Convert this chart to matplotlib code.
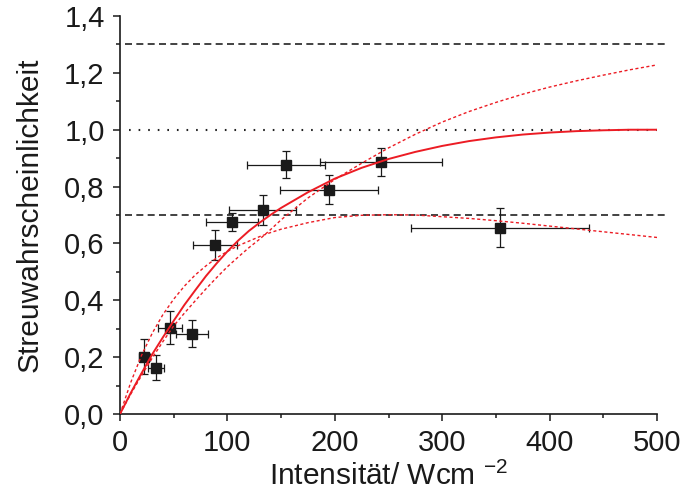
import numpy as np
import matplotlib
matplotlib.use("Agg")
import matplotlib.pyplot as plt
from matplotlib.ticker import MultipleLocator, FuncFormatter

plt.rcParams["font.family"] = ["Liberation Sans", "DejaVu Sans"]
plt.rcParams["mathtext.fontset"] = "custom"
plt.rcParams["mathtext.rm"] = "Liberation Sans"
plt.rcParams["mathtext.it"] = "Liberation Sans"

# measured points
intens = [22.6, 33.5, 46.6, 66.7, 88.5, 104.3, 132.8, 154.9, 194.3, 243.0, 353.6]
intens_err = [5.1, 7.7, 10.9, 15.0, 20.8, 24.5, 31.3, 36.2, 45.6, 57.0, 83.0]
prob = [0.202, 0.163, 0.304, 0.283, 0.593, 0.675, 0.718, 0.877, 0.788, 0.886, 0.656]
prob_err = [0.063, 0.045, 0.057, 0.047, 0.053, 0.032, 0.053, 0.048, 0.051, 0.050, 0.069]

# fit curves
fit_x = [0, 10, 20, 30, 40, 50, 60, 70, 80, 90, 100, 110, 120, 130, 140, 150,
         175, 200, 225, 250, 275, 300, 325, 350, 375, 400, 425, 450, 475, 500]
fit_mid = [0, 0.074, 0.143, 0.210, 0.270, 0.328, 0.384, 0.435, 0.485, 0.530,
           0.572, 0.610, 0.644, 0.673, 0.700, 0.725, 0.780, 0.828, 0.866, 0.897,
           0.922, 0.943, 0.960, 0.973, 0.983, 0.990, 0.995, 0.998, 1.000, 1.000]
fit_low = [0, 0.111, 0.206, 0.284, 0.350, 0.404, 0.450, 0.489, 0.521, 0.549,
           0.572, 0.592, 0.608, 0.624, 0.638, 0.650, 0.673, 0.691, 0.699, 0.701,
           0.700, 0.694, 0.688, 0.680, 0.671, 0.661, 0.651, 0.641, 0.631, 0.621]
fit_high = [0, 0.070, 0.135, 0.197, 0.255, 0.310, 0.355, 0.398, 0.440, 0.480,
            0.518, 0.552, 0.585, 0.615, 0.648, 0.683, 0.760, 0.825, 0.882, 0.936,
            0.984, 1.027, 1.064, 1.096, 1.125, 1.150, 1.172, 1.192, 1.211, 1.228]

# reference levels
lvl_dashed = [1.3, 0.7]
lvl_dotted = 1.0

RED = "#ec1c24"

fig = plt.figure(figsize=(6.81, 4.97), dpi=100)
ax = fig.add_axes([0.1762, 0.167, 0.7886, 0.8008])

for lv in lvl_dashed:
    ax.plot([5, 508], [lv, lv], color="#222222", lw=1.2, dashes=(4.2, 2.6),
            clip_on=False, zorder=2)
ax.plot([8, 500], [lvl_dotted, lvl_dotted], color="#222222", lw=1.5,
        dashes=(0.8, 3.8), zorder=2)

ax.errorbar(intens, prob, xerr=intens_err, yerr=prob_err, fmt="s", ms=6.8,
            color="#1a1a1a", ecolor="#1a1a1a", elinewidth=0.9, capsize=3,
            capthick=0.9, zorder=3)

ax.plot(fit_x, fit_high, color=RED, lw=1.0, dashes=(2.2, 1.8), zorder=4)
ax.plot(fit_x, fit_low, color=RED, lw=1.0, dashes=(2.2, 1.8), zorder=4)
ax.plot(fit_x, fit_mid, color=RED, lw=1.4, zorder=5)

ax.set_xlim(0, 500)
ax.set_ylim(0, 1.4)
ax.xaxis.set_major_locator(MultipleLocator(100))
ax.xaxis.set_minor_locator(MultipleLocator(50))
ax.yaxis.set_major_locator(MultipleLocator(0.2))
ax.yaxis.set_minor_locator(MultipleLocator(0.1))
ax.yaxis.set_major_formatter(FuncFormatter(lambda v, p: f"{v:.1f}".replace(".", ",")))
ax.tick_params(which="major", direction="out", length=5, width=1.1,
               labelsize=21, pad=6, colors="#1a1a1a")
ax.tick_params(which="minor", direction="out", length=3, width=1.1,
               colors="#1a1a1a")
for s in ["top", "right"]:
    ax.spines[s].set_visible(False)
for s in ["left", "bottom"]:
    ax.spines[s].set_linewidth(1.2)
    ax.spines[s].set_color("#1a1a1a")

ax.set_xlabel("Intensität/ Wcm $^{-2}$", fontsize=21.5, color="#1a1a1a", labelpad=3)
ax.set_ylabel("Streuwahrscheinlichkeit", fontsize=21.5, color="#1a1a1a", labelpad=15)

fig.savefig("out.png", dpi=100)
